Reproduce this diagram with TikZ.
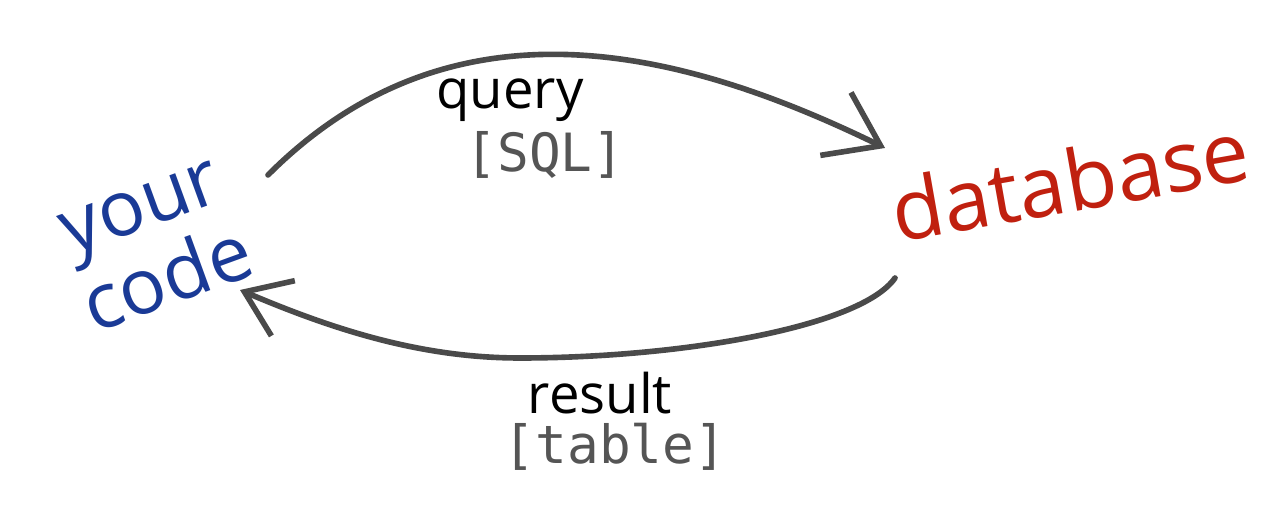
\documentclass[tikz,border=0pt]{standalone}
\usepackage{fontspec}
\setmainfont{Open Sans}
\newfontfamily\monofont{DejaVu Sans Mono}
\usetikzlibrary{arrows.meta,positioning}
\definecolor{codeblue}{HTML}{1A3A96}
\definecolor{dbred}{HTML}{C0200F}
\definecolor{arcgray}{HTML}{4A4A4A}
\definecolor{notegray}{HTML}{555555}

\begin{document}
\begin{tikzpicture}[
  flow/.style={draw=arcgray,line width=1.6pt,line cap=round},
  word/.style={inner sep=0pt,font=\fontsize{22}{17}\selectfont},
  label/.style={inner sep=0pt,font=\fontsize{15.5}{18}\selectfont,text=black},
  note/.style={inner sep=0pt,font=\monofont\fontsize{15}{18}\selectfont,text=notegray}
]
\useasboundingbox (0,0) rectangle (12.8,5.12);
% the two ends
\node [word,text=codeblue,align=center,rotate=20] (code) at (1.55,2.66) {your\\code};
\node [word,text=dbred,rotate=10,font=\fontsize{24}{28}\selectfont] (db) at (10.7,3.32) {database};
% arc ends
\coordinate (q-out) at (2.68,3.37);
\coordinate (q-in) at (8.85,3.64);
\coordinate (r-out) at (8.95,2.34);
\coordinate (r-low) at (5.2,1.54);
\coordinate (r-in) at (2.4,2.22);
% query goes over the top
\draw [flow,-{Straight Barb[length=5mm,width=7mm]}] (q-out) .. controls +(45:2.62) and +(154:2.25) .. (q-in);
\node [label] (query) at (5.1,4.12) {query};
\node [note] (sql) at (5.45,3.57) {[SQL]};
% result comes back underneath
\draw [flow,-{Straight Barb[length=4.2mm,width=6mm]}] (r-out) .. controls +(-125:0.6) and +(1.6,0) .. (r-low) .. controls +(-1,0) and +(-23:1) .. (r-in);
\node [label] (result) at (6.0,1.19) {result};
\node [note] (table) at (6.15,0.65) {[table]};
\end{tikzpicture}
\end{document}
